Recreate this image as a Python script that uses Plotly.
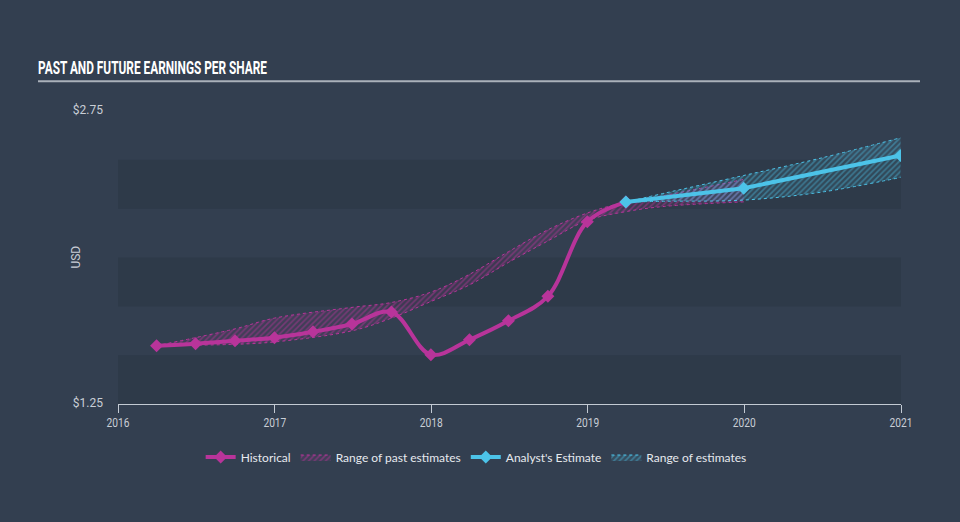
import plotly.graph_objects as go

# ---- data ----
hist_dates = ["2016-03-31", "2016-06-30", "2016-09-30", "2016-12-31", "2017-03-31",
              "2017-06-30", "2017-09-30", "2017-12-31", "2018-03-31", "2018-06-30",
              "2018-09-30", "2018-12-31", "2019-03-31"]
hist_eps = [1.549, 1.559, 1.574, 1.590, 1.620, 1.660, 1.721, 1.503, 1.579, 1.676,
            1.802, 2.183, 2.284]

past_range_dates = ["2016-03-31", "2016-09-30", "2016-12-31", "2017-06-30", "2017-09-30",
                    "2017-12-31", "2018-03-31", "2018-06-30", "2018-09-30", "2018-12-31",
                    "2019-03-31", "2019-06-30", "2019-12-31"]
past_range_high = [1.549, 1.635, 1.690, 1.745, 1.770, 1.823, 1.914, 2.030, 2.142, 2.228,
                   2.284, 2.318, 2.400]
past_range_low = [1.549, 1.556, 1.568, 1.625, 1.690, 1.775, 1.860, 1.975, 2.085, 2.190,
                  2.235, 2.262, 2.285]

est_dates = ["2019-03-31", "2019-12-31", "2020-12-31"]
est_eps = [2.284, 2.355, 2.522]

est_range_dates = ["2019-03-31", "2019-06-30", "2019-12-31", "2020-06-30", "2020-12-31"]
est_range_high = [2.284, 2.330, 2.420, 2.510, 2.613]
est_range_low = [2.284, 2.288, 2.294, 2.335, 2.410]

year_ticks = ["2016-01-01", "2017-01-01", "2018-01-01", "2019-01-01", "2020-01-01", "2021-01-01"]
year_labels = ["2016", "2017", "2018", "2019", "2020", "2021"]
y_ticks = [1.25, 2.75]
y_labels = ["$1.25", "$2.75"]
band_ranges = [(1.25, 1.5), (1.75, 2.0), (2.25, 2.5)]

MAG = "#b8349a"
BLUE = "#4cc3e8"
BG = "#333f50"
BAND = "#2e3a49"
TXT = "#c9ced6"

fig = go.Figure()

# past estimate range
fig.add_trace(go.Scatter(
    x=past_range_dates, y=past_range_high, mode="lines",
    line=dict(color=MAG, width=1, dash="dot", shape="spline"),
    showlegend=False, hoverinfo="skip"))
fig.add_trace(go.Scatter(
    x=past_range_dates, y=past_range_low, mode="lines", name="Range of past estimates",
    line=dict(color=MAG, width=1, dash="dot", shape="spline"),
    fill="tonexty", fillcolor="rgba(0,0,0,0)",
    fillpattern=dict(shape="/", fgcolor="rgba(184,52,154,0.9)",
                     bgcolor="rgba(184,52,154,0.10)", size=4, solidity=0.4),
    legendrank=2))

# future estimate range
fig.add_trace(go.Scatter(
    x=est_range_dates, y=est_range_high, mode="lines",
    line=dict(color=BLUE, width=1, dash="dot", shape="spline"),
    showlegend=False, hoverinfo="skip"))
fig.add_trace(go.Scatter(
    x=est_range_dates, y=est_range_low, mode="lines", name="Range of estimates",
    line=dict(color=BLUE, width=1, dash="dot", shape="spline"),
    fill="tonexty", fillcolor="rgba(0,0,0,0)",
    fillpattern=dict(shape="/", fgcolor="rgba(76,195,232,0.8)",
                     bgcolor="rgba(76,195,232,0.10)", size=4, solidity=0.4),
    legendrank=4))

# historical
fig.add_trace(go.Scatter(
    x=hist_dates, y=hist_eps, mode="lines+markers", name="Historical",
    line=dict(color=MAG, width=4, shape="spline", smoothing=1.0),
    marker=dict(symbol="diamond", size=10, color=MAG),
    legendrank=1))

# analyst estimate
fig.add_trace(go.Scatter(
    x=est_dates, y=est_eps, mode="lines+markers", name="Analyst's Estimate",
    line=dict(color=BLUE, width=4),
    marker=dict(symbol="diamond", size=10, color=BLUE),
    legendrank=3))

shapes = []
for lo, hi in band_ranges:
    shapes.append(dict(type="rect", xref="x", yref="y", x0=year_ticks[0], x1=year_ticks[-1],
                       y0=lo, y1=hi, fillcolor=BAND, line=dict(width=0), layer="below"))
# title underline
shapes.append(dict(type="line", xref="paper", yref="paper",
                   x0=(38 - 118) / 783, x1=(920 - 118) / 783,
                   y0=(406 - 81) / 295, y1=(406 - 81) / 295,
                   line=dict(color="#aab1ba", width=2)))

fig.update_layout(
    width=960, height=522,
    paper_bgcolor=BG, plot_bgcolor=BG,
    margin=dict(l=118, r=59, t=111, b=116),
    title=dict(text="PAST AND FUTURE EARNINGS PER SHARE",
               font=dict(family="Roboto, sans-serif", weight=700,
                         size=18, color="#ffffff"),
               xref="container", yref="container", x=38 / 960, y=1 - 68 / 522,
               xanchor="left", yanchor="middle"),
    shapes=shapes,
    annotations=[dict(text="USD", textangle=-90, xref="paper", yref="paper",
                      x=(76 - 118) / 783, y=0.5, xanchor="center", yanchor="middle",
                      showarrow=False,
                      font=dict(family="Roboto, sans-serif", size=12, color=TXT))],
    showlegend=True,
    legend=dict(orientation="h", xref="container", yref="container",
                x=0.496, y=1 - 457 / 522, xanchor="center", yanchor="middle",
                traceorder="normal",
                font=dict(family="Lato, sans-serif", size=12, color="#e6e9ee"),
                bgcolor="rgba(0,0,0,0)", itemwidth=30),
    xaxis=dict(type="date", range=[year_ticks[0], year_ticks[-1]],
               tickvals=year_ticks, ticktext=year_labels,
               showgrid=False, zeroline=False,
               showline=True, linecolor="#c3cad3", linewidth=1,
               ticks="outside", ticklen=8, tickcolor="#c3cad3", tickwidth=1,
               tickfont=dict(family="Roboto, sans-serif", size=12, color=TXT)),
    yaxis=dict(range=[1.25, 2.75], tickvals=y_ticks, ticktext=y_labels,
               showgrid=False, zeroline=False, showline=False,
               ticks="", ticklabelstandoff=14, ticklabelshift=-1,
               tickfont=dict(family="Roboto, sans-serif", size=12, color=TXT)),
)

post = """
var gd = document.getElementById('{plot_id}');
function squeeze() {
  var t = gd.querySelector('text.gtitle');
  if (t) { t.setAttribute('textLength', '229'); t.setAttribute('lengthAdjust', 'spacingAndGlyphs'); }
  gd.querySelectorAll('.xtick text').forEach(function (e) {
    var w = e.getComputedTextLength();
    e.setAttribute('textLength', String(w * 0.85));
    e.setAttribute('lengthAdjust', 'spacingAndGlyphs');
  });
}
squeeze();
"""

fig.write_html("out.html", post_script=post)
